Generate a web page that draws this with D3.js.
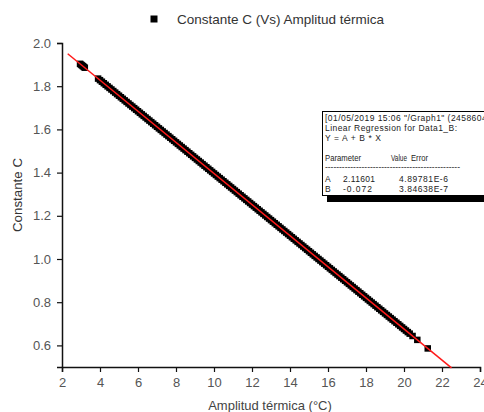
<!DOCTYPE html>
<html>
<head>
<meta charset="utf-8">
<script src="https://cdn.jsdelivr.net/npm/d3@7/dist/d3.min.js"></script>
<style>
  html, body { margin: 0; padding: 0; background: #fff; }
  svg { display: block; font-family: "Liberation Sans", Arial, sans-serif; }
</style>
</head>
<body>
<svg id="chart" width="484" height="412"></svg>
<script>
// Measured amplitude (°C) and the derived constant C
const amplitud = [
  2.95, 3.0, 3.05, 3.1, 3.15, 3.2,
  3.9, 4.0, 4.1, 4.2, 4.3, 4.4, 4.5, 4.6, 4.7, 4.8, 4.9,
  5.0, 5.1, 5.2, 5.3, 5.4, 5.5, 5.6, 5.7, 5.8, 5.9,
  6.0, 6.1, 6.2, 6.3, 6.4, 6.5, 6.6, 6.7, 6.8, 6.9,
  7.0, 7.1, 7.2, 7.3, 7.4, 7.5, 7.6, 7.7, 7.8, 7.9,
  8.0, 8.1, 8.2, 8.3, 8.4, 8.5, 8.6, 8.7, 8.8, 8.9,
  9.0, 9.1, 9.2, 9.3, 9.4, 9.5, 9.6, 9.7, 9.8, 9.9,
  10.0, 10.1, 10.2, 10.3, 10.4, 10.5, 10.6, 10.7, 10.8, 10.9,
  11.0, 11.1, 11.2, 11.3, 11.4, 11.5, 11.6, 11.7, 11.8, 11.9,
  12.0, 12.1, 12.2, 12.3, 12.4, 12.5, 12.6, 12.7, 12.8, 12.9,
  13.0, 13.1, 13.2, 13.3, 13.4, 13.5, 13.6, 13.7, 13.8, 13.9,
  14.0, 14.1, 14.2, 14.3, 14.4, 14.5, 14.6, 14.7, 14.8, 14.9,
  15.0, 15.1, 15.2, 15.3, 15.4, 15.5, 15.6, 15.7, 15.8, 15.9,
  16.0, 16.1, 16.2, 16.3, 16.4, 16.5, 16.6, 16.7, 16.8, 16.9,
  17.0, 17.1, 17.2, 17.3, 17.4, 17.5, 17.6, 17.7, 17.8, 17.9,
  18.0, 18.1, 18.2, 18.3, 18.4, 18.5, 18.6, 18.7, 18.8, 18.9,
  19.0, 19.1, 19.2, 19.3, 19.4, 19.5, 19.6, 19.7, 19.8, 19.9,
  20.0, 20.1, 20.2, 20.3, 20.45, 20.7, 21.25
];
const constanteC = [
  1.9036, 1.9000, 1.8964, 1.8928, 1.8892, 1.8856,
  1.8352, 1.8280, 1.8208, 1.8136, 1.8064, 1.7992, 1.7920, 1.7848, 1.7776, 1.7704, 1.7632,
  1.7560, 1.7488, 1.7416, 1.7344, 1.7272, 1.7200, 1.7128, 1.7056, 1.6984, 1.6912,
  1.6840, 1.6768, 1.6696, 1.6624, 1.6552, 1.6480, 1.6408, 1.6336, 1.6264, 1.6192,
  1.6120, 1.6048, 1.5976, 1.5904, 1.5832, 1.5760, 1.5688, 1.5616, 1.5544, 1.5472,
  1.5400, 1.5328, 1.5256, 1.5184, 1.5112, 1.5040, 1.4968, 1.4896, 1.4824, 1.4752,
  1.4680, 1.4608, 1.4536, 1.4464, 1.4392, 1.4320, 1.4248, 1.4176, 1.4104, 1.4032,
  1.3960, 1.3888, 1.3816, 1.3744, 1.3672, 1.3600, 1.3528, 1.3456, 1.3384, 1.3312,
  1.3240, 1.3168, 1.3096, 1.3024, 1.2952, 1.2880, 1.2808, 1.2736, 1.2664, 1.2592,
  1.2520, 1.2448, 1.2376, 1.2304, 1.2232, 1.2160, 1.2088, 1.2016, 1.1944, 1.1872,
  1.1800, 1.1728, 1.1656, 1.1584, 1.1512, 1.1440, 1.1368, 1.1296, 1.1224, 1.1152,
  1.1080, 1.1008, 1.0936, 1.0864, 1.0792, 1.0720, 1.0648, 1.0576, 1.0504, 1.0432,
  1.0360, 1.0288, 1.0216, 1.0144, 1.0072, 1.0000, 0.9928, 0.9856, 0.9784, 0.9712,
  0.9640, 0.9568, 0.9496, 0.9424, 0.9352, 0.9280, 0.9208, 0.9136, 0.9064, 0.8992,
  0.8920, 0.8848, 0.8776, 0.8704, 0.8632, 0.8560, 0.8488, 0.8416, 0.8344, 0.8272,
  0.8200, 0.8128, 0.8056, 0.7984, 0.7912, 0.7840, 0.7768, 0.7696, 0.7624, 0.7552,
  0.7480, 0.7408, 0.7336, 0.7264, 0.7192, 0.7120, 0.7048, 0.6976, 0.6904, 0.6832,
  0.6760, 0.6688, 0.6616, 0.6544, 0.6436, 0.6256, 0.5860
];

// Linear fit Y = A + B * X
const fitA = 2.11601;
const fitB = -0.072;
const fitRange = [2.3, 22.5];

const xTicks = [2, 4, 6, 8, 10, 12, 14, 16, 18, 20, 22, 24];
const xMinorTicks = [3, 5, 7, 9, 11, 13, 15, 17, 19, 21, 23];
const yTicks = [0.6, 0.8, 1.0, 1.2, 1.4, 1.6, 1.8, 2.0];
const yMinorTicks = [0.5, 0.7, 0.9, 1.1, 1.3, 1.5, 1.7, 1.9];

const reportLines = [
  "[01/05/2019 15:06 \"/Graph1\" (2458604",
  "Linear Regression for Data1_B:",
  "Y = A + B * X"
];
const paramNames = ["A", "B"];
const paramValues = ["2.11601", "-0.072"];
const paramErrors = ["4.89781E-6", "3.84638E-7"];

const svg = d3.select("#chart");

const x = d3.scaleLinear().domain([2, 24]).range([62, 480]);
const y = d3.scaleLinear().domain([0.5, 2.0]).range([367, 43]);

// Axes
const fmtY = d3.format(".1f");
const gx = svg.append("g").attr("transform", "translate(0,367)");
gx.call(d3.axisBottom(x).tickValues(xMinorTicks).tickSize(3).tickFormat(""));
gx.call(d3.axisBottom(x).tickValues(xTicks).tickSize(5).tickPadding(6).tickFormat(d3.format("d")));

const gy = svg.append("g").attr("transform", "translate(62,0)");
gy.call(d3.axisLeft(y).tickValues(yMinorTicks).tickSize(3).tickFormat(""));
gy.call(d3.axisLeft(y).tickValues(yTicks).tickSize(5).tickPadding(6).tickFormat(fmtY));

svg.selectAll(".domain").attr("stroke", "#111").attr("stroke-width", 1.5);
svg.selectAll(".tick line").attr("stroke", "#111").attr("stroke-width", 1.2);
svg.selectAll(".tick text")
  .attr("fill", "#555")
  .style("font-size", "13px")
  .style("font-family", "'Liberation Sans', Arial, sans-serif");

// Axis titles
svg.append("text")
  .attr("x", 270).attr("y", 410)
  .attr("text-anchor", "middle")
  .attr("fill", "#444")
  .style("font-size", "13px")
  .text("Amplitud térmica (°C)");

svg.append("text")
  .attr("transform", "translate(22,195) rotate(-90)")
  .attr("text-anchor", "middle")
  .attr("fill", "#333")
  .attr("textLength", 74)
  .attr("lengthAdjust", "spacingAndGlyphs")
  .style("font-size", "13.5px")
  .text("Constante C");

// Data points
const pts = amplitud.map((a, i) => ({ a, c: constanteC[i] }));
const sq = 6.5;
svg.append("g").selectAll("rect").data(pts).join("rect")
  .attr("x", d => x(d.a) - sq / 2)
  .attr("y", d => y(d.c) - sq / 2)
  .attr("width", sq).attr("height", sq)
  .attr("fill", "#000");

// Fitted line
svg.append("path")
  .datum(fitRange)
  .attr("d", d3.line().x(d => x(d)).y(d => y(fitA + fitB * d)))
  .attr("stroke", "#ff1a1a")
  .attr("stroke-width", 1.5)
  .attr("fill", "none");

// Legend
svg.append("rect")
  .attr("x", 150.5).attr("y", 15.5).attr("width", 7).attr("height", 7)
  .attr("fill", "#000");
svg.append("text")
  .attr("x", 177).attr("y", 24)
  .attr("fill", "#333")
  .style("font-size", "13.5px")
  .text("Constante C (Vs) Amplitud térmica");

// Regression report box
const box = svg.append("g");
box.append("rect")
  .attr("x", 327).attr("y", 118).attr("width", 200).attr("height", 84)
  .attr("fill", "#000");
box.append("rect")
  .attr("x", 322.5).attr("y", 111.5).attr("width", 200).attr("height", 84)
  .attr("fill", "#fff").attr("stroke", "#000").attr("stroke-width", 1);

const tStyle = sel => sel.attr("fill", "#222").style("font-size", "8.5px");
const fitText = (xx, yy, t, len, adjust) => {
  const el = box.append("text").attr("x", xx).attr("y", yy).call(tStyle).text(t);
  if (len) el.attr("textLength", len).attr("lengthAdjust", adjust || "spacing");
  return el;
};

fitText(325, 121, reportLines[0]).style("letter-spacing", "0.45px");
fitText(325, 131, reportLines[1], 132);
fitText(325, 140.5, reportLines[2], 56);
fitText(325, 161, "Parameter", 36, "spacingAndGlyphs");
fitText(391, 161, "Value", 16, "spacingAndGlyphs");
fitText(411, 161, "Error", 17, "spacingAndGlyphs");
fitText(325, 170, "------------------------------------------------", 135, "spacingAndGlyphs");
paramNames.forEach((p, i) => {
  const yy = 182 + i * 9.5;
  fitText(325, yy, p);
  fitText(343, yy, paramValues[i], i === 0 ? 32 : 29);
  fitText(399, yy, paramErrors[i], 49);
});
</script>
</body>
</html>
